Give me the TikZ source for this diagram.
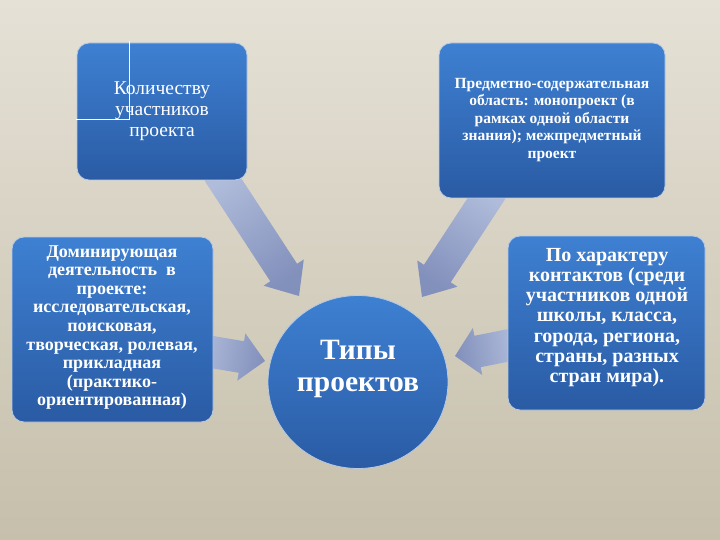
\documentclass[tikz,border=0pt]{standalone}
\usepackage{fontspec}
\setmainfont{Liberation Serif}
\usetikzlibrary{calc,shapes.geometric}
\pgfdeclarelayer{bgl}\pgfdeclarelayer{arl}\pgfsetlayers{bgl,arl,main}
\definecolor{bgtop}{HTML}{E5E1D6}
\definecolor{bgbot}{HTML}{C6BFAB}
\definecolor{boxtop}{HTML}{3E80D2}
\definecolor{boxbot}{HTML}{2A5BA4}
\definecolor{boxedge}{HTML}{B8CAE2}
\definecolor{arrtop}{HTML}{B0BCDA}
\definecolor{arrbot}{HTML}{8290BC}
\tikzset{
  box/.style={rectangle, rounded corners=12pt, top color=boxtop, bottom color=boxbot,
    draw=boxedge, line width=0.8pt, inner sep=0pt},
  oval/.style={ellipse, top color=boxtop, bottom color=boxbot,
    draw=boxedge, line width=0.8pt, inner sep=0pt},
  boxtext/.style={text=white, align=center, inner sep=0pt},
  arrshade/.style={top color=arrtop, bottom color=arrbot, shading angle=#1},
  guide/.style={draw=white, line width=0.6pt}
}
% block arrow: tail, tip, shading angle, shaft half width, head half width, head length
\newcommand\blockarr[6]{%
  \coordinate (hb) at ($(#2)!#6!(#1)$);
  \path[arrshade=#3]
    ($(#1)!#4!90:(#2)$) -- ($(hb)!#4!90:(#2)$) -- ($(hb)!#5!90:(#2)$) -- (#2)
    -- ($(hb)!#5!-90:(#2)$) -- ($(hb)!#4!-90:(#2)$) -- ($(#1)!#4!-90:(#2)$) -- cycle;
}
\begin{document}
\begin{tikzpicture}[x=1pt,y=-1pt]
\begin{pgfonlayer}{bgl}
  \fill[top color=bgtop, bottom color=bgbot] (0,0) rectangle (720,540);
\end{pgfonlayer}
\useasboundingbox (0,0) rectangle (720,540);

% boxes
\node[box, minimum width=170pt, minimum height=137pt] (b1) at (162,111.5) {};
\node[box, minimum width=226pt, minimum height=155pt] (b2) at (552,120.5) {};
\node[box, minimum width=201pt, minimum height=185pt] (b3) at (112.5,329.5) {};
\node[box, minimum width=197pt, minimum height=174pt] (b4) at (606.5,323) {};
\node[oval, minimum width=180pt, minimum height=173pt] (c) at (358,382) {};

% guide lines in first box
\draw[guide] (129.5,41) -- (129.5,120);
\draw[guide] (76,119) -- (130,119);

% texts
\node[boxtext, font=\fontsize{19.5}{21}\selectfont] (t1) at (162,111)
  {Количеству\\участников\\проекта};
\node[boxtext, font=\bfseries\fontsize{15.5}{17.5}\selectfont] (t2) at (552,120)
  {Предметно-содержательная\\область: монопроект (в\\рамках одной области\\знания); межпредметный\\проект};
\node[boxtext, font=\bfseries\fontsize{18}{18.6}\selectfont] (t3) at (112,327.5)
  {Доминирующая\\деятельность~ в\\проекте:\\исследовательская,\\поисковая,\\творческая, ролевая,\\прикладная\\(практико-\\ориентированная)};
\node[boxtext, font=\bfseries\fontsize{20}{20.3}\selectfont] (t4) at (607,317.5)
  {По характеру\\контактов (среди\\участников одной\\школы, класса,\\города, региона,\\страны, разных\\стран мира).};
\node[boxtext, font=\bfseries\fontsize{29.5}{32}\selectfont] (tc) at (358,369)
  {Типы\\проектов};

% arrows
\coordinate (a1t) at (218,172);  \coordinate (a1p) at (299,296);
\coordinate (a2t) at (492,190);  \coordinate (a2p) at (422,297);
\coordinate (a3t) at (200,350);  \coordinate (a3p) at (265,361);
\coordinate (a4t) at (515,344);  \coordinate (a4p) at (455,356);
\begin{pgfonlayer}{arl}
  \blockarr{a1t}{a1p}{34}{16pt}{24pt}{28pt}
  \blockarr{a2t}{a2p}{-33}{16pt}{24pt}{28pt}
  \blockarr{a3t}{a3p}{80}{16pt}{24pt}{24pt}
  \blockarr{a4t}{a4p}{-80}{16pt}{24pt}{23pt}
\end{pgfonlayer}
\end{tikzpicture}
\end{document}
